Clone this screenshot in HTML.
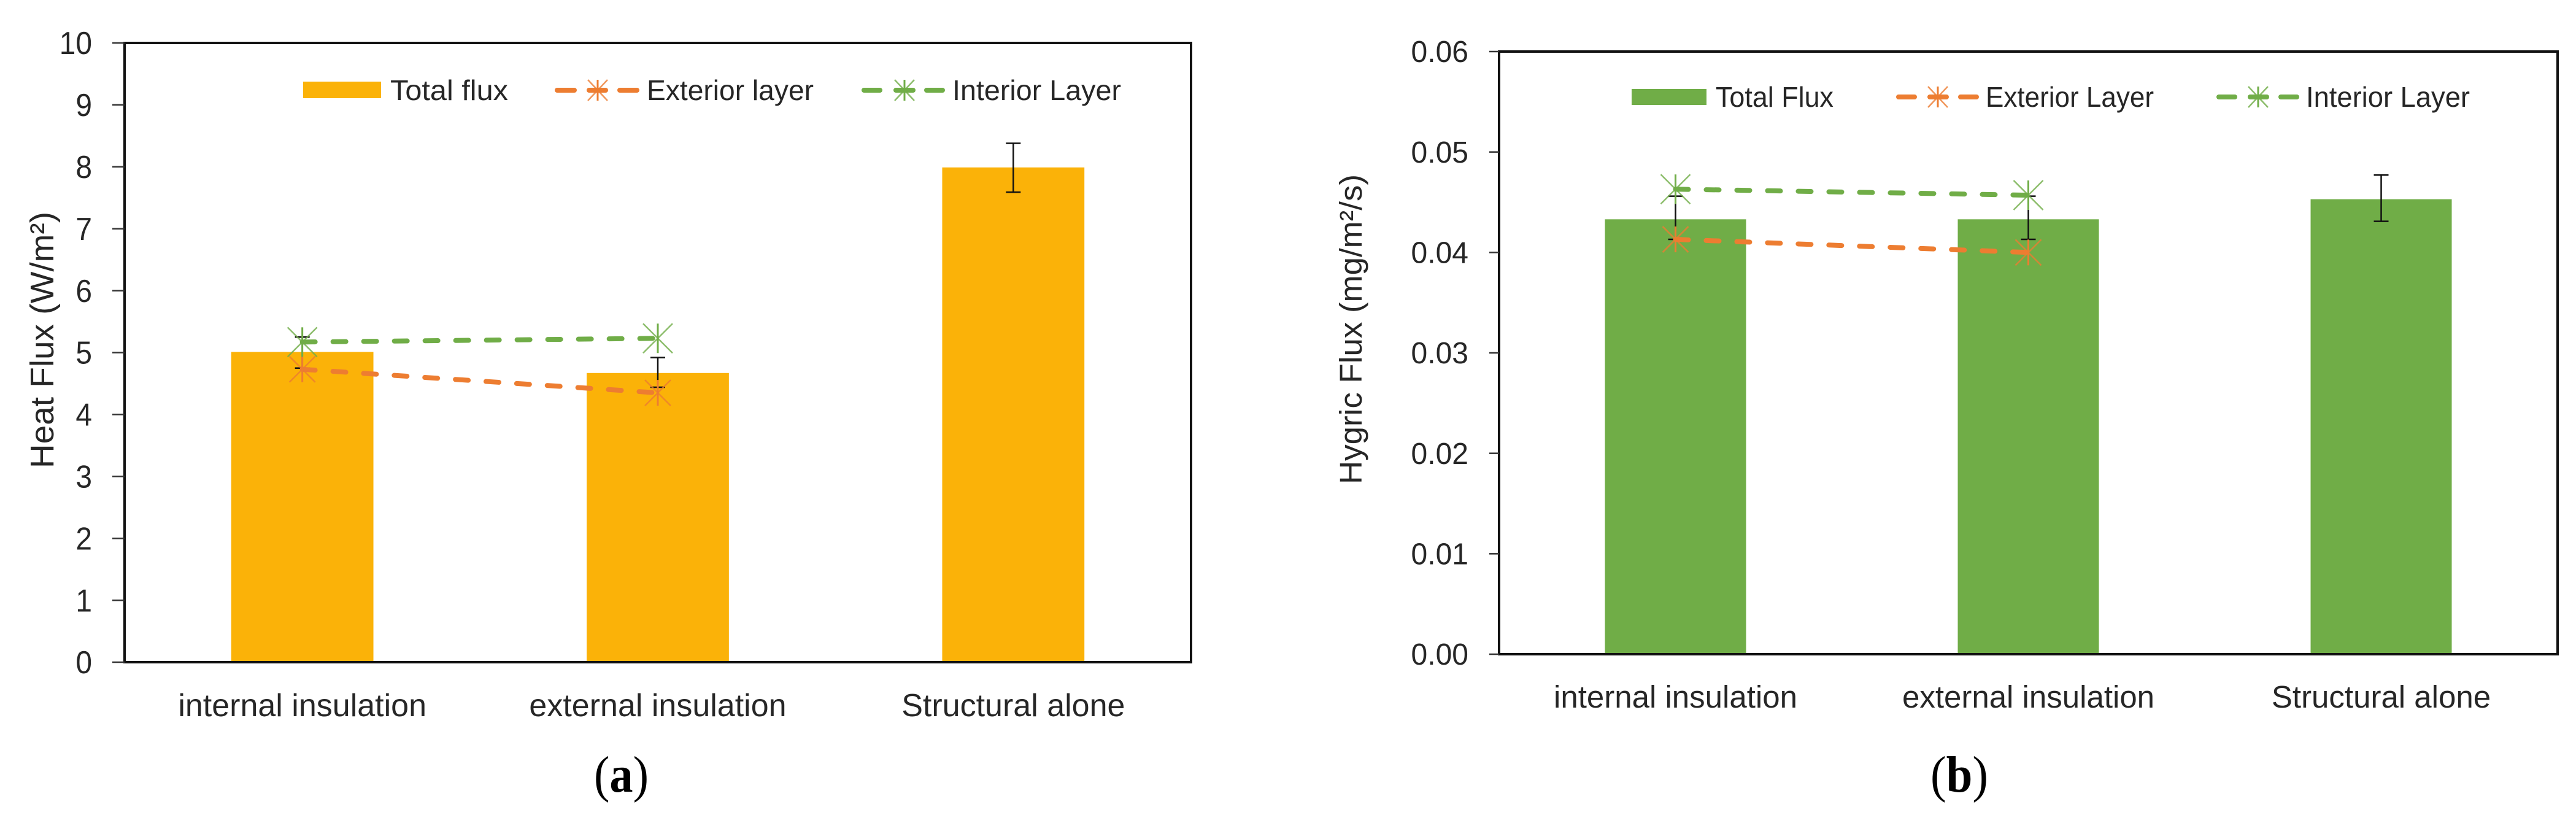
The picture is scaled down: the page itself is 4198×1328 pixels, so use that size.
<!DOCTYPE html>
<html lang="en">
<head>
<meta charset="utf-8">
<title>Heat flux and hygric flux charts</title>
<style>
  html, body { margin: 0; padding: 0; background: #ffffff; width: 4198px; height: 1328px; overflow: hidden; }
  svg { display: block; }
  text { font-family: "Liberation Sans", sans-serif; fill: #262626; }
  .caption { font-family: "Liberation Serif", serif; fill: #000; }
</style>
</head>
<body>
<svg id="figure" xmlns="http://www.w3.org/2000/svg" width="4198" height="1328" viewBox="0 0 4198 1328">
  <rect width="4198" height="1328" fill="#ffffff"/>

  <g id="chart-a">
    <text transform="translate(87 763) rotate(-90)" font-size="54" textLength="418" lengthAdjust="spacingAndGlyphs">Heat Flux (W/m²)</text>
    <g>
      <rect x="494" y="133" width="127" height="27" fill="#FBB208"/>
      <text x="636" y="163" font-size="46" textLength="192" lengthAdjust="spacingAndGlyphs">Total flux</text>
      <g stroke="#ED7D31">
        <line x1="908" y1="147" x2="936" y2="147" stroke-width="8" stroke-linecap="round"/>
        <line x1="960" y1="147" x2="987" y2="147" stroke-width="8" stroke-linecap="round"/>
        <line x1="1010" y1="147" x2="1038" y2="147" stroke-width="8" stroke-linecap="round"/>
        <line x1="974" y1="130" x2="974" y2="164" stroke-width="3"/>
        <line x1="958" y1="130" x2="990" y2="164" stroke-width="2.5" opacity="0.8"/>
        <line x1="990" y1="130" x2="958" y2="164" stroke-width="2.5" opacity="0.8"/>
      </g>
      <text x="1054" y="163" font-size="46" textLength="272" lengthAdjust="spacingAndGlyphs">Exterior layer</text>
      <g stroke="#70AD47">
        <line x1="1408" y1="147" x2="1434" y2="147" stroke-width="8" stroke-linecap="round"/>
        <line x1="1460" y1="147" x2="1488" y2="147" stroke-width="8" stroke-linecap="round"/>
        <line x1="1510" y1="147" x2="1536" y2="147" stroke-width="8" stroke-linecap="round"/>
        <line x1="1474" y1="130" x2="1474" y2="164" stroke-width="3"/>
        <line x1="1458" y1="130" x2="1490" y2="164" stroke-width="2.5" opacity="0.8"/>
        <line x1="1490" y1="130" x2="1458" y2="164" stroke-width="2.5" opacity="0.8"/>
      </g>
      <text x="1552" y="163" font-size="46" textLength="275" lengthAdjust="spacingAndGlyphs">Interior Layer</text>
    </g>
    <text class="caption" x="968" y="1290" font-size="84" textLength="89" lengthAdjust="spacingAndGlyphs">(<tspan font-weight="bold">a</tspan>)</text>
  </g>

  <g id="chart-b">
    <text transform="translate(2219 789) rotate(-90)" font-size="51" textLength="505" lengthAdjust="spacingAndGlyphs">Hygric Flux (mg/m²/s)</text>
    <g>
      <rect x="2659" y="145" width="122" height="26" fill="#70AD47"/>
      <text x="2796" y="174" font-size="46" textLength="192" lengthAdjust="spacingAndGlyphs">Total Flux</text>
      <g stroke="#ED7D31">
        <line x1="3094" y1="158" x2="3120" y2="158" stroke-width="8" stroke-linecap="round"/>
        <line x1="3145" y1="158" x2="3172" y2="158" stroke-width="8" stroke-linecap="round"/>
        <line x1="3195" y1="158" x2="3221" y2="158" stroke-width="8" stroke-linecap="round"/>
        <line x1="3158" y1="141" x2="3158" y2="175" stroke-width="3"/>
        <line x1="3142" y1="141" x2="3174" y2="175" stroke-width="2.5" opacity="0.8"/>
        <line x1="3174" y1="141" x2="3142" y2="175" stroke-width="2.5" opacity="0.8"/>
      </g>
      <text x="3236" y="174" font-size="46" textLength="274" lengthAdjust="spacingAndGlyphs">Exterior Layer</text>
      <g stroke="#70AD47">
        <line x1="3616" y1="158" x2="3642" y2="158" stroke-width="8" stroke-linecap="round"/>
        <line x1="3667" y1="158" x2="3694" y2="158" stroke-width="8" stroke-linecap="round"/>
        <line x1="3717" y1="158" x2="3743" y2="158" stroke-width="8" stroke-linecap="round"/>
        <line x1="3680" y1="141" x2="3680" y2="175" stroke-width="3"/>
        <line x1="3664" y1="141" x2="3696" y2="175" stroke-width="2.5" opacity="0.8"/>
        <line x1="3696" y1="141" x2="3664" y2="175" stroke-width="2.5" opacity="0.8"/>
      </g>
      <text x="3758" y="174" font-size="46" textLength="267" lengthAdjust="spacingAndGlyphs">Interior Layer</text>
    </g>
    <text class="caption" x="3146" y="1290" font-size="84" textLength="94" lengthAdjust="spacingAndGlyphs">(<tspan font-weight="bold">b</tspan>)</text>
  </g>
</svg>

<script>
const categoriesA = ['internal insulation', 'external insulation', 'Structural alone'];
const yTickLabelsA = ['0', '1', '2', '3', '4', '5', '6', '7', '8', '9', '10'];
const totalFluxA = [5.01, 4.67, 7.99];
const errorHighA = [5.25, 4.92, 8.38];
const errorLowA = [4.75, 4.44, 7.59];
const exteriorA = [4.73, 4.35];
const interiorA = [5.17, 5.23];

const categoriesB = ['internal insulation', 'external insulation', 'Structural alone'];
const yTickLabelsB = ['0.00', '0.01', '0.02', '0.03', '0.04', '0.05', '0.06'];
const totalFluxB = [0.0433, 0.0433, 0.0453];
const errorHighB = [0.0456, 0.0456, 0.0477];
const errorLowB = [0.0413, 0.0413, 0.0431];
const exteriorB = [0.0413, 0.0400];
const interiorB = [0.0463, 0.0457];

const SVG_NS = 'http://www.w3.org/2000/svg';

function make(parent, tag, attrs) {
  const el = document.createElementNS(SVG_NS, tag);
  for (const k in attrs) el.setAttribute(k, attrs[k]);
  parent.appendChild(el);
  return el;
}

function drawStar(parent, cx, cy, half, color) {
  const v = make(parent, 'line', { x1: cx, y1: cy - half, x2: cx, y2: cy + half, stroke: color, 'stroke-width': 3 });
  
  
  const d1 = make(parent, 'line', { x1: cx - half, y1: cy - half, x2: cx + half, y2: cy + half, stroke: color, 'stroke-width': 2.5, opacity: 0.8 });
  
  
  const d2 = make(parent, 'line', { x1: cx + half, y1: cy - half, x2: cx - half, y2: cy + half, stroke: color, 'stroke-width': 2.5, opacity: 0.8 });
  
  
}

function drawLineSeries(root, values, xFn, yFn, color, half, name) {
  const g = make(root, 'g', {});
  
  
  const pts = values.map((v, i) => xFn(i) + ',' + yFn(v)).join(' ');
  const line = make(g, 'polyline', { points: pts, fill: 'none', stroke: color, 'stroke-width': 8, 'stroke-dasharray': '21 29', 'stroke-linecap': 'round' });
  
  
  values.forEach((v, i) => {
    const m = make(g, 'g', {});
    
    
    drawStar(m, xFn(i), yFn(v), half, color);
  });
}

function drawChart(root, cfg, categories, tickLabels, totals, hi, lo, exterior, interior) {
  const band = (cfg.right - cfg.left) / categories.length;
  const xFn = i => cfg.left + band * (i + 0.5);
  const yMax = parseFloat(tickLabels[tickLabels.length - 1]);
  const yFn = v => cfg.bottom - (v / yMax) * (cfg.bottom - cfg.top);
  const before = root.firstChild;

  const frame = make(root, 'rect', { x: cfg.left, y: cfg.top, width: cfg.right - cfg.left, height: cfg.bottom - cfg.top, fill: 'none', stroke: '#111', 'stroke-width': 4 });
  
  

  tickLabels.forEach(label => {
    const y = yFn(parseFloat(label));
    const tick = make(root, 'line', { x1: cfg.left - cfg.tick, y1: y, x2: cfg.left, y2: y, stroke: '#333', 'stroke-width': 2.5 });
    
    
    const t = make(root, 'text', { x: cfg.tickLabelX, y: y + cfg.tickSize * 0.35, 'font-size': cfg.tickSize, 'text-anchor': 'end' });
    t.textContent = label;
    
    
    t.setAttribute('textLength', t.getComputedTextLength() * cfg.tickSqueeze);
    t.setAttribute('lengthAdjust', 'spacingAndGlyphs');
  });

  totals.forEach((v, i) => {
    const bar = make(root, 'rect', { x: xFn(i) - band * 0.2, y: yFn(v), width: band * 0.4, height: cfg.bottom - 2 - yFn(v), fill: cfg.barColor });
    
    
  });

  totals.forEach((v, i) => {
    const x = xFn(i);
    const g = make(root, 'g', { stroke: '#111', 'stroke-width': 2.5 });
    
    
    make(g, 'line', { x1: x, y1: yFn(hi[i]), x2: x, y2: yFn(lo[i]) });
    make(g, 'line', { x1: x - 12, y1: yFn(hi[i]), x2: x + 12, y2: yFn(hi[i]) });
    make(g, 'line', { x1: x - 12, y1: yFn(lo[i]), x2: x + 12, y2: yFn(lo[i]) });
  });

  drawLineSeries(root, exterior, xFn, yFn, '#ED7D31', 21, 'exterior-layer');
  drawLineSeries(root, interior, xFn, yFn, '#70AD47', 24, 'interior-layer');

  categories.forEach((c, i) => {
    const t = make(root, 'text', { x: xFn(i), y: cfg.catBaseline, 'font-size': cfg.catSize, 'text-anchor': 'middle' });
    t.textContent = c;
    
    
  });

  root.insertBefore(frame, before);
}

drawChart(document.getElementById('chart-a'),
  { left: 203, right: 1941, top: 70, bottom: 1079, tick: 20, tickLabelX: 150, tickSize: 52, tickSqueeze: 0.92, barColor: '#FBB208', catBaseline: 1167, catSize: 52 },
  categoriesA, yTickLabelsA, totalFluxA, errorHighA, errorLowA, exteriorA, interiorA);

drawChart(document.getElementById('chart-b'),
  { left: 2443, right: 4168, top: 84, bottom: 1066, tick: 16, tickLabelX: 2393, tickSize: 49, tickSqueeze: 0.98, barColor: '#70AD47', catBaseline: 1153, catSize: 51 },
  categoriesB, yTickLabelsB, totalFluxB, errorHighB, errorLowB, exteriorB, interiorB);
</script>
</body>
</html>
